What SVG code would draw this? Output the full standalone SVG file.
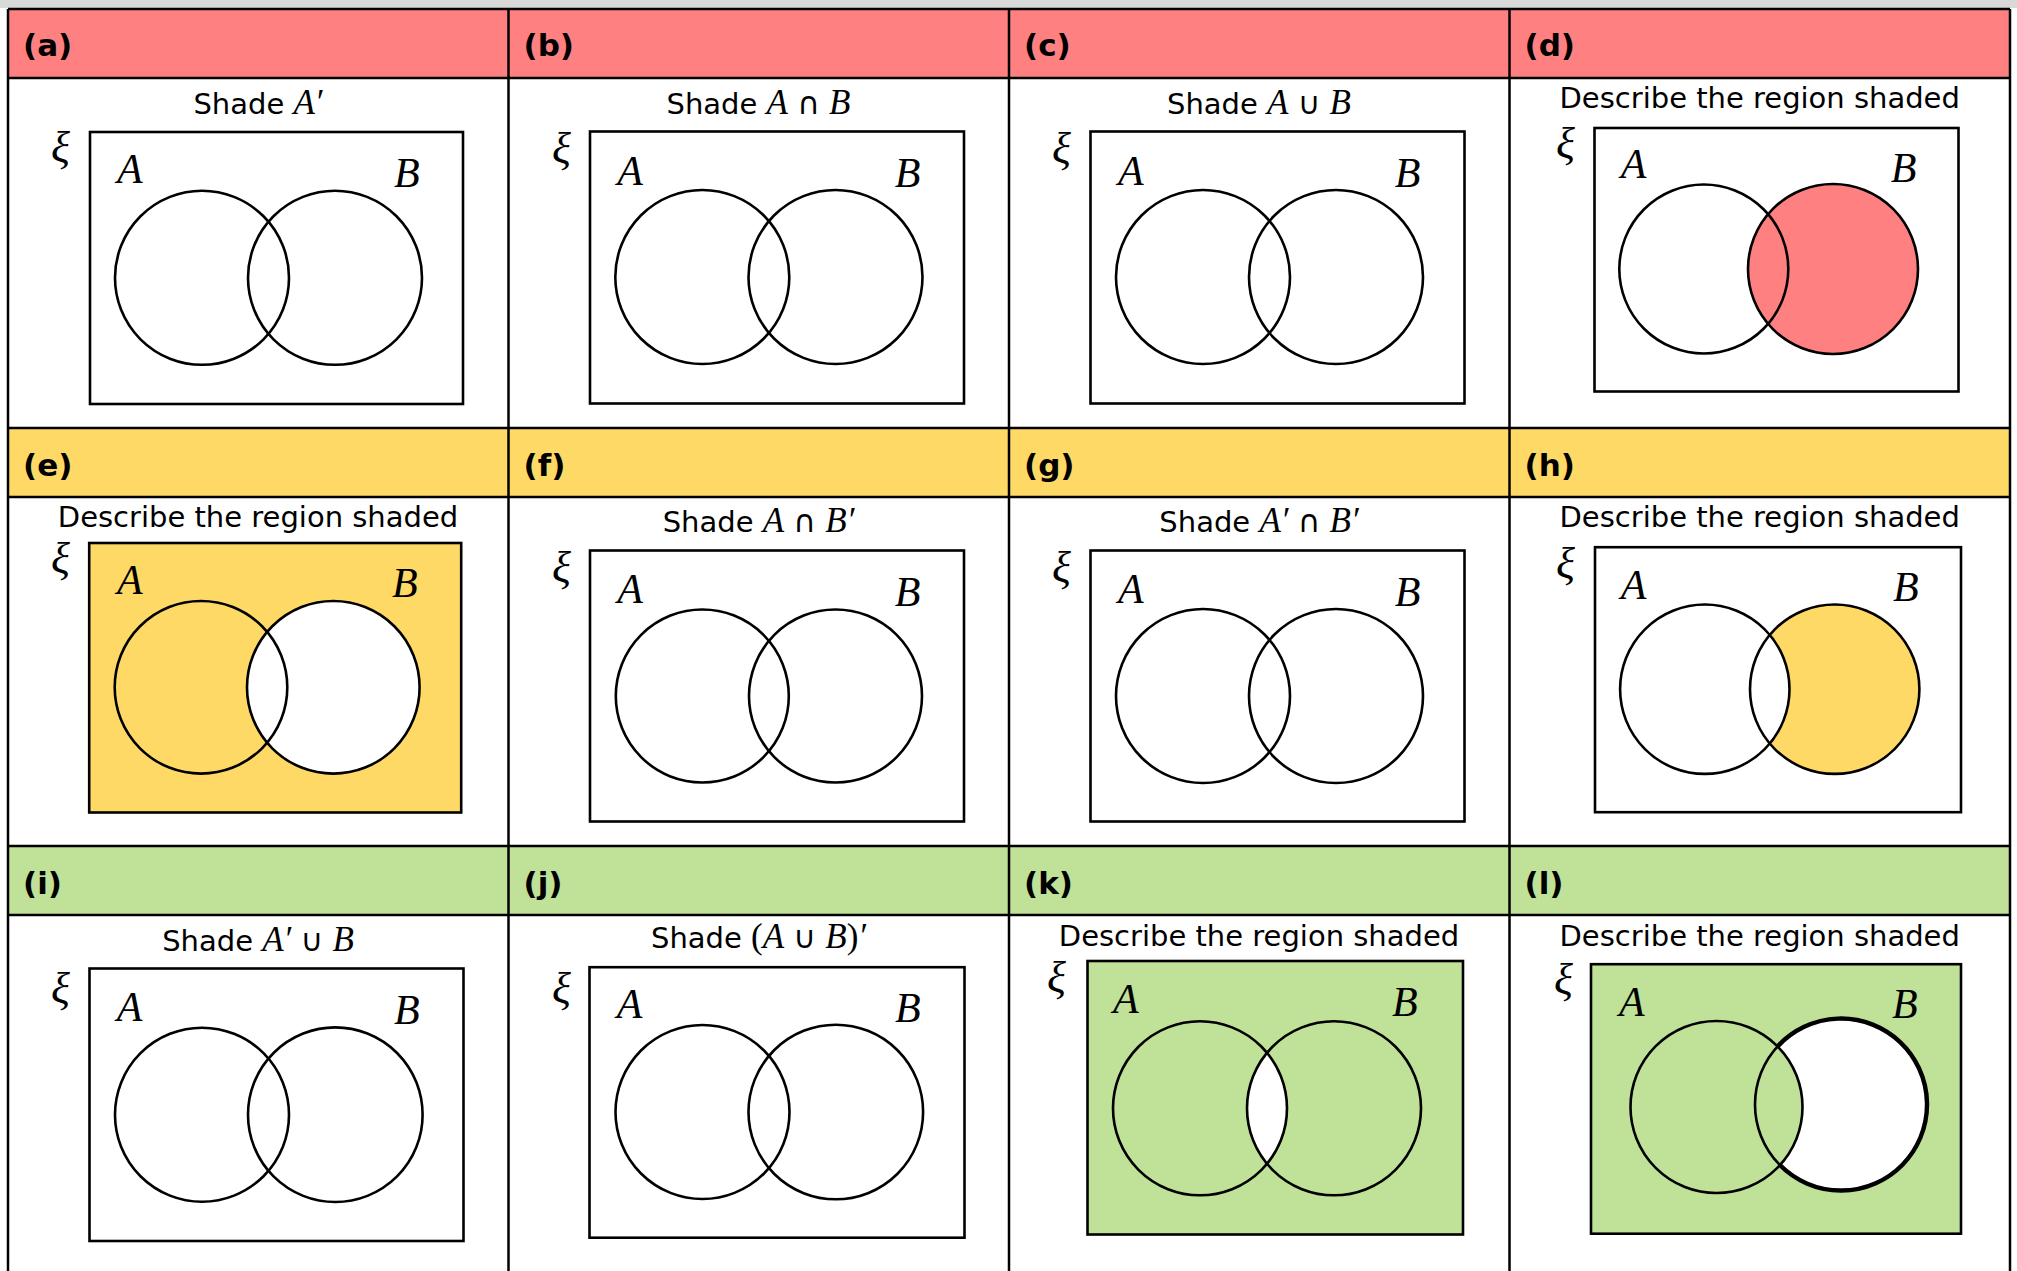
<svg xmlns="http://www.w3.org/2000/svg" width="2017" height="1271" viewBox="0 0 2017 1271">
<style>
.hd{font-family:"DejaVu Sans",Verdana,sans-serif;font-weight:bold;font-size:31px;fill:#000}
.t{font-family:"DejaVu Sans",Verdana,sans-serif;font-size:29px;fill:#000}
.m{font-family:"Liberation Serif","DejaVu Serif",serif;font-style:italic;font-size:35px}
.up{font-family:"Liberation Serif","DejaVu Serif",serif;font-size:35px}
.op{font-family:"DejaVu Sans",sans-serif;font-size:31px}
.lbl{font-family:"Liberation Serif","DejaVu Serif",serif;font-style:italic;font-size:42px;fill:#000}
.xi{font-family:"Liberation Serif","DejaVu Serif",serif;font-style:italic;font-size:44px;fill:#000}
.box{fill:#fff;stroke:#000;stroke-width:2.6}
.c{fill:none;stroke:#000;stroke-width:2.6}
.g{stroke:#000;stroke-width:2.5;fill:none}
</style>
<defs>
<clipPath id="clipK"><circle cx="1200" cy="1108.3" r="87"/></clipPath>
</defs>
<rect x="0" y="0" width="2017" height="1271" fill="#fff"/>
<rect x="0" y="0" width="2017" height="8" fill="#d9d9d9"/>
<g id="headers">
<rect x="8" y="9" width="2002" height="69" fill="#ff8080"/>
<rect x="8" y="428" width="2002" height="69" fill="#ffd966"/>
<rect x="8" y="846" width="2002" height="69" fill="#bfe198"/>
<text class="hd" x="23" y="56">(a)</text>
<text class="hd" x="523.5" y="56">(b)</text>
<text class="hd" x="1024" y="56">(c)</text>
<text class="hd" x="1524.5" y="56">(d)</text>
<text class="hd" x="23" y="476">(e)</text>
<text class="hd" x="523.5" y="476">(f)</text>
<text class="hd" x="1024" y="476">(g)</text>
<text class="hd" x="1524.5" y="476">(h)</text>
<text class="hd" x="23" y="894">(i)</text>
<text class="hd" x="523.5" y="894">(j)</text>
<text class="hd" x="1024" y="894">(k)</text>
<text class="hd" x="1524.5" y="894">(l)</text>
</g>
<g id="grid">
<path class="g" d="M8,9V1271M508.5,9V1271M1009,9V1271M1509.5,9V1271M2010,9V1271"/>
<path class="g" d="M8,9H2010M8,78H2010M8,428H2010M8,497H2010M8,846H2010M8,915H2010"/>
</g>
<g id="panel-a">
<text class="t" x="258" y="114" text-anchor="middle">Shade <tspan class="m">A′</tspan></text>
<rect class="box" x="90" y="132" width="373" height="272"/>
<circle class="c" cx="202" cy="277.8" r="87"/>
<circle class="c" cx="335" cy="277.8" r="87"/>
<text class="xi" x="51" y="162">ξ</text>
<text class="lbl" x="117" y="183">A</text>
<text class="lbl" x="394" y="187">B</text>
</g>
<g id="panel-b">
<text class="t" x="758.5" y="113.7" text-anchor="middle">Shade <tspan class="m">A</tspan> <tspan class="op">∩</tspan> <tspan class="m">B</tspan></text>
<rect class="box" x="590" y="131.5" width="374" height="272"/>
<circle class="c" cx="702.3" cy="277" r="87"/>
<circle class="c" cx="835.5" cy="277" r="87"/>
<text class="xi" x="552" y="163">ξ</text>
<text class="lbl" x="617.3" y="184.7">A</text>
<text class="lbl" x="894.7" y="187.3">B</text>
</g>
<g id="panel-c">
<text class="t" x="1259" y="113.7" text-anchor="middle">Shade <tspan class="m">A</tspan> <tspan class="op">∪</tspan> <tspan class="m">B</tspan></text>
<rect class="box" x="1090.5" y="131.5" width="374" height="272"/>
<circle class="c" cx="1203" cy="277" r="87"/>
<circle class="c" cx="1336" cy="277" r="87"/>
<text class="xi" x="1052" y="163">ξ</text>
<text class="lbl" x="1118" y="184.7">A</text>
<text class="lbl" x="1394.7" y="187.3">B</text>
</g>
<g id="panel-d">
<text class="t" x="1759.7" y="108" text-anchor="middle">Describe the region shaded</text>
<rect class="box" x="1594.5" y="128" width="364" height="263.5"/>
<circle cx="1833" cy="269" r="85" fill="#ff8080"/>
<circle class="c" cx="1703.8" cy="269" r="84.5"/>
<circle class="c" cx="1833" cy="269" r="85"/>
<text class="xi" x="1556" y="158">ξ</text>
<text class="lbl" x="1620.7" y="178">A</text>
<text class="lbl" x="1890.7" y="182">B</text>
</g>
<g id="panel-e">
<text class="t" x="258" y="526.7" text-anchor="middle">Describe the region shaded</text>
<rect class="box" x="89.2" y="543" width="372" height="269.5" style="fill:#ffd966"/>
<circle cx="333.3" cy="687.3" r="86.3" fill="#fff"/>
<circle class="c" cx="201" cy="687.3" r="86.3"/>
<circle class="c" cx="333.3" cy="687.3" r="86.3"/>
<text class="xi" x="51" y="573">ξ</text>
<text class="lbl" x="117" y="594">A</text>
<text class="lbl" x="392" y="597">B</text>
</g>
<g id="panel-f">
<text class="t" x="758.5" y="532" text-anchor="middle">Shade <tspan class="m">A</tspan> <tspan class="op">∩</tspan> <tspan class="m">B′</tspan></text>
<rect class="box" x="590" y="550.5" width="374" height="271"/>
<circle class="c" cx="702.3" cy="696" r="86.5"/>
<circle class="c" cx="835.5" cy="696" r="86.5"/>
<text class="xi" x="552" y="582">ξ</text>
<text class="lbl" x="617.3" y="602.7">A</text>
<text class="lbl" x="894.7" y="606">B</text>
</g>
<g id="panel-g">
<text class="t" x="1259" y="532" text-anchor="middle">Shade <tspan class="m">A′</tspan> <tspan class="op">∩</tspan> <tspan class="m">B′</tspan></text>
<rect class="box" x="1090.5" y="550.5" width="374" height="271"/>
<circle class="c" cx="1203" cy="696" r="87"/>
<circle class="c" cx="1336" cy="696" r="87"/>
<text class="xi" x="1052" y="582">ξ</text>
<text class="lbl" x="1118" y="602.7">A</text>
<text class="lbl" x="1394.7" y="606">B</text>
</g>
<g id="panel-h">
<text class="t" x="1759.7" y="527" text-anchor="middle">Describe the region shaded</text>
<rect class="box" x="1595" y="547.2" width="366" height="265"/>
<circle cx="1834.7" cy="689.2" r="84.7" fill="#ffd966"/>
<circle cx="1704.8" cy="689.2" r="84.7" fill="#fff"/>
<circle class="c" cx="1704.8" cy="689.2" r="84.7"/>
<circle class="c" cx="1834.7" cy="689.2" r="84.7"/>
<text class="xi" x="1556" y="578">ξ</text>
<text class="lbl" x="1620.7" y="599.3">A</text>
<text class="lbl" x="1893" y="601">B</text>
</g>
<g id="panel-i">
<text class="t" x="258" y="951.3" text-anchor="middle">Shade <tspan class="m">A′</tspan> <tspan class="op">∪</tspan> <tspan class="m">B</tspan></text>
<rect class="box" x="89.5" y="968.5" width="374" height="272.5"/>
<circle class="c" cx="202" cy="1114.7" r="87"/>
<circle class="c" cx="335.3" cy="1114.7" r="87.3"/>
<text class="xi" x="51" y="1003">ξ</text>
<text class="lbl" x="116.7" y="1021.3">A</text>
<text class="lbl" x="394" y="1024">B</text>
</g>
<g id="panel-j">
<text class="t" x="758.5" y="948.3" text-anchor="middle">Shade <tspan class="up">(</tspan><tspan class="m">A</tspan> <tspan class="op">∪</tspan> <tspan class="m">B</tspan><tspan class="up">)</tspan><tspan class="m">′</tspan></text>
<rect class="box" x="589.5" y="967.2" width="375" height="270.5"/>
<circle class="c" cx="702.5" cy="1112" r="87"/>
<circle class="c" cx="835.8" cy="1112" r="87.3"/>
<text class="xi" x="552" y="1003">ξ</text>
<text class="lbl" x="616.7" y="1018">A</text>
<text class="lbl" x="895" y="1022">B</text>
</g>
<g id="panel-k">
<text class="t" x="1259" y="945.7" text-anchor="middle">Describe the region shaded</text>
<rect class="box" x="1087.5" y="961" width="375.5" height="273.5" style="fill:#bfe198"/>
<circle cx="1334" cy="1108.3" r="87" fill="#fff" clip-path="url(#clipK)"/>
<circle class="c" cx="1200" cy="1108.3" r="87"/>
<circle class="c" cx="1334" cy="1108.3" r="87"/>
<text class="xi" x="1047" y="992">ξ</text>
<text class="lbl" x="1113" y="1013.3">A</text>
<text class="lbl" x="1392" y="1016">B</text>
</g>
<g id="panel-l">
<text class="t" x="1759.7" y="945.7" text-anchor="middle">Describe the region shaded</text>
<rect class="box" x="1591" y="964.2" width="370" height="269.5" style="fill:#bfe198"/>
<circle cx="1841" cy="1104.5" r="86" fill="#fff"/>
<circle cx="1716.5" cy="1107" r="86" fill="#bfe198" stroke="#000" stroke-width="2.6"/>
<circle class="c" cx="1841" cy="1104.5" r="86"/>
<path d="M1777.6,1046.45 A86,86 0 1 1 1779.9,1165.05" fill="none" stroke="#000" stroke-width="4.4"/>
<text class="xi" x="1554" y="994">ξ</text>
<text class="lbl" x="1619" y="1015.7">A</text>
<text class="lbl" x="1892" y="1018">B</text>
</g>
</svg>
